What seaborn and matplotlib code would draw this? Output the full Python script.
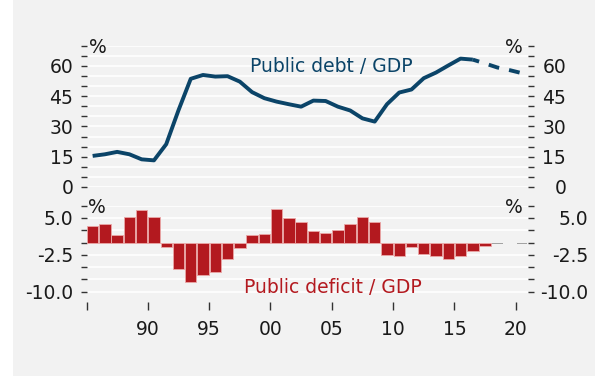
import matplotlib
matplotlib.use("Agg")
import matplotlib.pyplot as plt
import matplotlib.transforms as mtransforms
from matplotlib.patches import Rectangle
import numpy as np
import pandas as pd
import seaborn as sns

# ---------------- data ----------------
years = list(range(1985, 2021))
debt = [15.4, 16.2, 17.4, 16.2, 13.7, 13.2, 21.2, 38.0, 53.6, 55.5,
        54.7, 54.9, 52.2, 47.0, 44.0, 42.3, 41.0, 39.8, 42.8, 42.6,
        39.8, 37.9, 34.0, 32.4, 41.0, 46.8, 48.3, 53.9, 56.7, 60.2,
        63.6, 63.1, 61.2, 59.2, 57.9, 56.4]
deficit = [3.4, 3.75, 1.6, 5.2, 6.7, 5.3, -0.9, -5.3, -8.1, -6.6,
           -5.9, -3.3, -1.2, 1.6, 1.7, 6.9, 5.0, 4.1, 2.3, 2.0,
           2.5, 3.8, 5.1, 4.2, -2.6, -2.7, -0.9, -2.3, -2.7, -3.3,
           -2.8, -1.8, -0.8, -0.3, 0.0, -0.25]
last_solid_debt_year = 2016
last_actual_deficit_year = 2017

x_tick_years = [1985, 1990, 1995, 2000, 2005, 2010, 2015, 2020]
x_tick_labels = ["", "90", "95", "00", "05", "10", "15", "20"]
debt_ticks = [0, 5, 10, 15, 20, 25, 30, 35, 40, 45, 50, 55, 60, 65, 70]
debt_tick_labels = ["0", "", "", "15", "", "", "30", "", "", "45", "", "", "60", "", ""]
def_ticks = [-10, -7.5, -5, -2.5, 0, 2.5, 5, 7.5]
def_tick_labels = ["-10.0", "", "", "-2.5", "", "", "5.0", ""]

debt_label = "Public debt / GDP"
deficit_label = "Public deficit / GDP"
unit = "%"

# ---------------- style ----------------
NAVY = "#0b4468"
RED = "#b3191f"
GREY = "#a3a3a3"
BG = "#f2f2f2"
TXT = "#1a1a1a"
FS = 13.5

sns.set_theme(style="white")
plt.rcParams["font.family"] = ["DejaVu Sans"]

df = pd.DataFrame({"year": years, "debt": debt, "deficit": deficit})
df["pos"] = df["year"] + 0.5
solid = df[df["year"] <= last_solid_debt_year]
dashed = df[df["year"] >= last_solid_debt_year]
bars_actual = df[df["year"] <= last_actual_deficit_year]
bars_fc = df[df["year"] > last_actual_deficit_year]

fig = plt.figure(figsize=(5.95, 3.76), dpi=100, facecolor="white")
fig.patches.append(Rectangle((13 / 595, 0), 1, 1, transform=fig.transFigure,
                             facecolor=BG, edgecolor="none", zorder=-10))

L, W = 86.5 / 595, (528 - 86.5) / 595
ax_top = fig.add_axes([L, 1 - 187 / 376, W, (187 - 45.7) / 376])
ax_bot = fig.add_axes([L, 1 - 301.5 / 376, W, (301.5 - 205.7) / 376])

for ax in (ax_top, ax_bot):
    ax.set_facecolor(BG)
    ax.set_axisbelow(True)
    for s in ax.spines.values():
        s.set_visible(False)

# ---- top: debt line ----
sns.lineplot(data=solid, x="pos", y="debt", ax=ax_top, color=NAVY,
             linewidth=2.8, solid_capstyle="butt")
sns.lineplot(data=dashed, x="pos", y="debt", ax=ax_top, color=NAVY,
             linewidth=2.8, linestyle=(1.1, (2.8, 2.6)), dash_capstyle="butt")
ax_top.set_xlim(1985, 2021)
ax_top.set_ylim(0, 70)
ax_top.set_xlabel("")
ax_top.set_ylabel("")
ax_top.tick_params(axis="x", bottom=False, labelbottom=False)
ax_top.set_yticks(debt_ticks, debt_tick_labels)
ax_top.yaxis.grid(True, color="white", linewidth=1.2)
ax_top.tick_params(axis="y", left=True, length=4, width=1, color="#333333",
                   pad=5.5, labelsize=FS, labelcolor=TXT)

axr_top = ax_top.twinx()
axr_top.set_ylim(0, 70)
axr_top.set_yticks(debt_ticks, debt_tick_labels, ha="right")
axr_top.tick_params(axis="y", right=True, length=4, width=1, color="#333333",
                    pad=23.5, labelsize=FS, labelcolor=TXT)
for s in axr_top.spines.values():
    s.set_visible(False)

ax_top.text(2005.0, 57.0, debt_label, color=NAVY, fontsize=FS,
            ha="center", va="baseline")
tr = mtransforms.blended_transform_factory(ax_top.transAxes, ax_top.transData)
ax_top.text(0.006, 69.2, unit, transform=tr, ha="left", va="center",
            fontsize=FS, color=TXT)
ax_top.text(0.989, 69.2, unit, transform=tr, ha="right", va="center",
            fontsize=FS, color=TXT)

# ---- bottom: deficit bars ----
sns.barplot(data=bars_actual, x="pos", y="deficit", ax=ax_bot, native_scale=True,
            color=RED, saturation=1, width=0.93, errorbar=None,
            edgecolor="#eaa7a7", linewidth=0.6)
sns.barplot(data=bars_fc, x="pos", y="deficit", ax=ax_bot, native_scale=True,
            color=GREY, saturation=1, width=0.85, errorbar=None,
            edgecolor="none", linewidth=0)
ax_bot.set_xlim(1985, 2021)
ax_bot.set_ylim(-12, 7.5)
ax_bot.set_xlabel("")
ax_bot.set_ylabel("")
ax_bot.set_yticks(def_ticks, def_tick_labels)
ax_bot.yaxis.grid(True, color="white", linewidth=1.2)
for t, v in zip(ax_bot.yaxis.get_major_ticks(), def_ticks):
    if v == 0:
        t.gridline.set_visible(False)
ax_bot.tick_params(axis="y", left=True, length=4, width=1, color="#333333",
                   pad=5.5, labelsize=FS, labelcolor=TXT)
ax_bot.set_xticks(x_tick_years, x_tick_labels)
ax_bot.tick_params(axis="x", bottom=True, length=5.5, width=1, color="#333333",
                   pad=8, labelsize=FS, labelcolor=TXT)

axr_bot = ax_bot.twinx()
axr_bot.set_ylim(-12, 7.5)
axr_bot.set_yticks(def_ticks, def_tick_labels, ha="right")
axr_bot.tick_params(axis="y", right=True, length=4, width=1, color="#333333",
                    pad=39.5, labelsize=FS, labelcolor=TXT)
for s in axr_bot.spines.values():
    s.set_visible(False)

ax_bot.text(2005.1, -10.2, deficit_label, color=RED, fontsize=FS,
            ha="center", va="baseline")
trb = mtransforms.blended_transform_factory(ax_bot.transAxes, ax_bot.transData)
ax_bot.text(0.004, 7.1, unit, transform=trb, ha="left", va="center",
            fontsize=FS, color=TXT)
ax_bot.text(0.989, 7.1, unit, transform=trb, ha="right", va="center",
            fontsize=FS, color=TXT)

fig.savefig("out.png", dpi=100, facecolor=fig.get_facecolor())
